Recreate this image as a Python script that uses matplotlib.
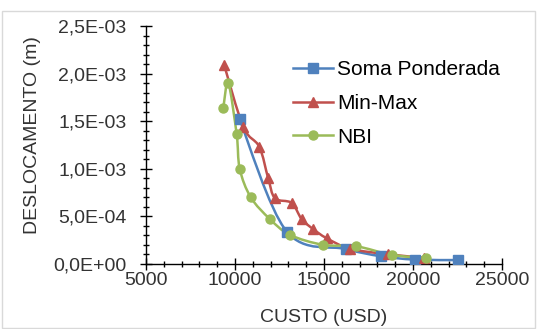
import numpy as np
import matplotlib
matplotlib.use('Agg')
import matplotlib.pyplot as plt
from matplotlib.path import Path
from matplotlib.patches import PathPatch, Rectangle
from matplotlib.ticker import FuncFormatter, MultipleLocator

plt.rcParams['font.family'] = ['Liberation Sans', 'DejaVu Sans']

# data
soma_x = [10250, 12900, 16250, 18200, 20100, 22550]
soma_y = [1.52e-3, 3.4e-4, 1.55e-4, 8.0e-5, 4.5e-5, 4.0e-5]

minmax_x = [9380, 10460, 11360, 11860, 12240, 13180, 13740, 14390, 15140, 16450, 18600, 20600]
minmax_y = [2.095e-3, 1.44e-3, 1.23e-3, 9.0e-4, 6.9e-4, 6.4e-4, 4.7e-4, 3.65e-4, 2.7e-4, 1.6e-4, 1.0e-4, 6.5e-5]

nbi_x = [9340, 9620, 10090, 10260, 10880, 11960, 13080, 14950, 16800, 18790, 20710]
nbi_y = [1.64e-3, 1.90e-3, 1.36e-3, 1.0e-3, 7.0e-4, 4.7e-4, 3.05e-4, 2.0e-4, 1.85e-4, 9.5e-5, 6.0e-5]

labels = ['Soma Ponderada', 'Min-Max', 'NBI']
colors = ['#4F81BD', '#C0504D', '#9BBB59']
markers = ['s', '^', 'o']
msizes = [7, 7, 6.5]


def smooth_path(x, y):
    # excel-like smoothed line (catmull-rom as cubic bezier)
    p = np.column_stack([x, y]).astype(float)
    n = len(p)
    verts = [p[0]]
    codes = [Path.MOVETO]
    for i in range(n - 1):
        p0 = p[i - 1] if i > 0 else p[i]
        p3 = p[i + 2] if i + 2 < n else p[i + 1]
        c1 = p[i] + (p[i + 1] - p0) / 6
        c2 = p[i + 1] - (p3 - p[i]) / 6
        verts += [c1, c2, p[i + 1]]
        codes += [Path.CURVE4] * 3
    return Path(verts, codes)


fig = plt.figure(figsize=(5.37, 3.29), dpi=100)
ax = fig.add_axes([0.272, 0.198, 0.663, 0.723])

series = [(soma_x, soma_y), (minmax_x, minmax_y), (nbi_x, nbi_y)]
for (xs, ys), lab, c, m, ms in zip(series, labels, colors, markers, msizes):
    ax.add_patch(PathPatch(smooth_path(xs, ys), fill=False, edgecolor=c, lw=1.8, zorder=2))
    ax.plot(xs, ys, linestyle='none', marker=m, color=c, ms=ms, zorder=3)
    # legend proxy
    ax.plot([], [], color=c, lw=1.8, marker=m, ms=ms, label=lab)

ax.set_xlim(5000, 25000)
ax.set_ylim(0, 2.5e-3)
ax.set_xticks([5000, 10000, 15000, 20000, 25000])
ax.xaxis.set_minor_locator(MultipleLocator(1000))
ax.yaxis.set_major_locator(MultipleLocator(5e-4))
ax.yaxis.set_minor_locator(MultipleLocator(1e-4))


def sci_comma(v, pos):
    s = '%.1E' % v
    mant, exp = s.split('E')
    return mant.replace('.', ',') + 'E' + exp[0] + exp[1:].zfill(2)


ax.yaxis.set_major_formatter(FuncFormatter(sci_comma))

for side in ['top', 'right']:
    ax.spines[side].set_visible(False)
for side in ['left', 'bottom']:
    ax.spines[side].set_color('black')
    ax.spines[side].set_linewidth(1)

ax.tick_params(which='major', direction='inout', length=8, width=1, labelsize=14,
               labelcolor='#333333')
ax.tick_params(axis='y', which='major', pad=10)
ax.tick_params(axis='x', which='major', pad=2)
ax.tick_params(which='minor', direction='inout', length=5, width=1)

ax.set_xlabel('CUSTO (USD)', fontsize=14, color='#333333', va='center')
ax.set_ylabel('DESLOCAMENTO (m)', fontsize=14, color='#333333', va='center')
ax.xaxis.set_label_coords(0.5, -0.227)
ax.yaxis.set_label_coords(-0.32, 0.54)

ax.legend(loc='upper left', bbox_to_anchor=(0.39, 0.89), frameon=False, fontsize=15,
          handlelength=1.9, handletextpad=0.2, labelspacing=0.7, borderaxespad=0)

fig.patches.append(Rectangle((0.004, 0.004), 0.992, 0.964, transform=fig.transFigure,
                             fill=False, edgecolor='#d9d9d9', lw=1))

plt.savefig('out.png', dpi=100)
